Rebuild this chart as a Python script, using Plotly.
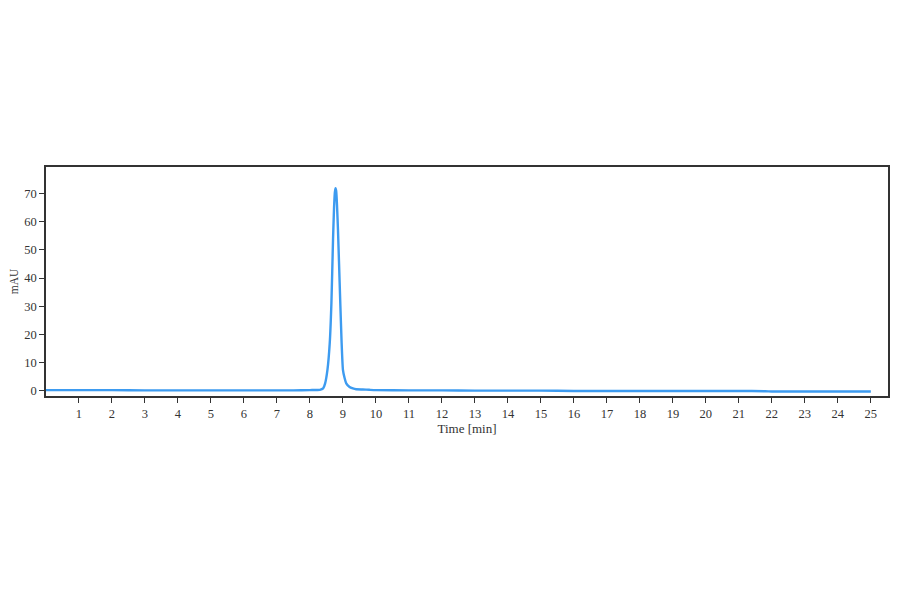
import plotly.graph_objects as go

# chromatogram trace
time_min = [0.0, 1.0, 2.0, 3.0, 4.0, 5.0, 6.0, 7.0, 7.5, 8.0, 8.3, 8.4, 8.46, 8.53,
            8.6, 8.65, 8.7, 8.73, 8.755, 8.775, 8.795, 8.82, 8.85, 8.88, 8.92, 8.96,
            9.0, 9.05, 9.1, 9.2, 9.3, 9.4, 9.6, 9.8, 10.0, 11.0, 12.0, 13.0, 14.0,
            15.0, 16.0, 17.0, 18.0, 19.0, 20.0, 21.0, 21.8, 22.0, 22.5, 23.0, 24.0, 25.0]
mau = [0.2, 0.2, 0.2, 0.1, 0.1, 0.1, 0.1, 0.1, 0.1, 0.2, 0.3, 0.8, 2.6, 7.4,
       17.0, 31.0, 54.0, 65.0, 70.5, 72.0, 71.0, 66.0, 57.0, 46.0, 31.0, 17.0,
       7.4, 4.5, 2.6, 1.3, 0.8, 0.5, 0.4, 0.3, 0.2, 0.1, 0.1, 0.0, 0.0,
       0.0, -0.1, -0.1, -0.1, -0.1, -0.1, -0.1, -0.2, -0.3, -0.3, -0.3, -0.3, -0.3]

x_ticks = list(range(1, 26))
y_ticks = [0, 10, 20, 30, 40, 50, 60, 70]

fig = go.Figure()
fig.add_trace(go.Scatter(x=time_min, y=mau, mode="lines",
                         line=dict(color="#3d9bf0", width=2.4, shape="spline", smoothing=0.5)))

axis_font = dict(family="Liberation Serif", size=12.5, color="#333")
title_font = dict(family="Liberation Serif", size=13, color="#333")
fig.update_layout(
    width=900, height=594,
    paper_bgcolor="white", plot_bgcolor="white",
    margin=dict(l=38, r=20, t=159, b=206),
    showlegend=False,
    font=axis_font,
    xaxis=dict(range=[0, 25.52], tickvals=x_ticks, ticks="outside", ticklen=5,
               tickcolor="#333", showgrid=False, zeroline=False, automargin=False,
               showline=True, linecolor="#333", linewidth=1.5, mirror=True,
               title=dict(text="Time [min]", standoff=1, font=title_font),
               tickfont=axis_font),
    yaxis=dict(range=[-1.9, 79.5], tickvals=y_ticks, ticks="outside", ticklen=5,
               tickcolor="#333", showgrid=False, zeroline=False, automargin=False,
               showline=True, linecolor="#333", linewidth=1.5, mirror=True,
               title=dict(text="mAU", standoff=4, font=dict(family="Liberation Serif", size=11.5, color="#333")),
               tickfont=axis_font),
)

fig.write_html("out.html")
